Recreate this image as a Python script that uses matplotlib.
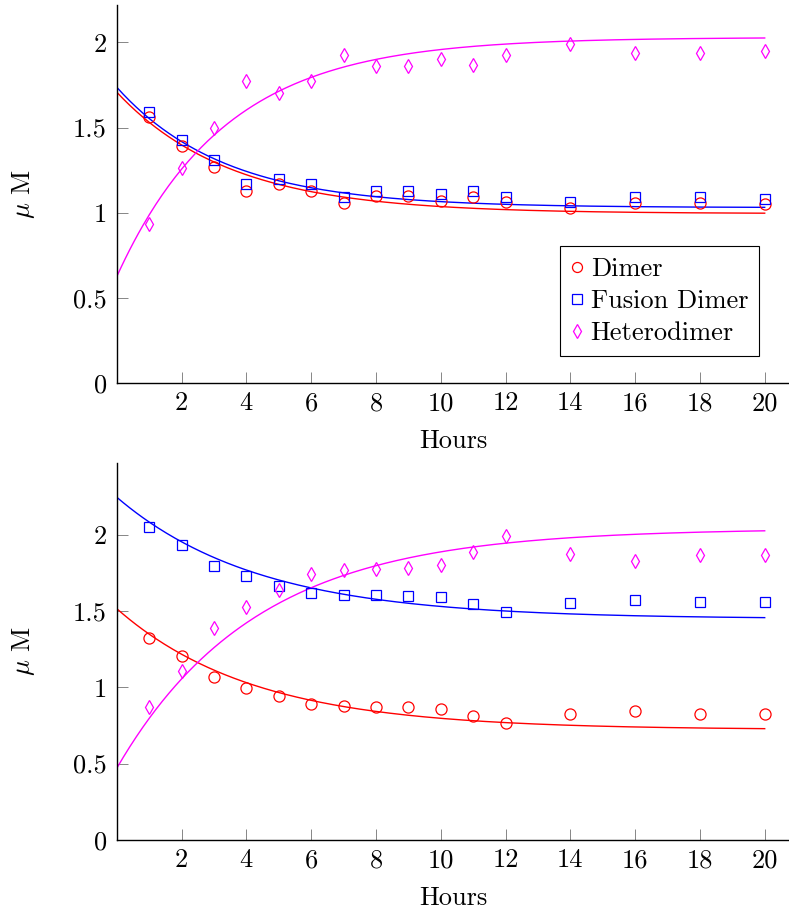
import numpy as np
import matplotlib
matplotlib.use("Agg")
import matplotlib.pyplot as plt

plt.rcParams['font.family'] = ['cmr10', 'DejaVu Serif']
plt.rcParams['mathtext.fontset'] = 'cm'
plt.rcParams['axes.formatter.use_mathtext'] = True

# Measured hours
hours = [1, 2, 3, 4, 5, 6, 7, 8, 9, 10, 11, 12, 14, 16, 18, 20]

# Top panel measurements (uM)
top_dimer = [1.56, 1.39, 1.27, 1.13, 1.17, 1.13, 1.06, 1.10, 1.10, 1.07, 1.09, 1.065, 1.03, 1.055, 1.055, 1.05]
top_fusion = [1.59, 1.43, 1.31, 1.17, 1.20, 1.17, 1.095, 1.13, 1.13, 1.11, 1.125, 1.095, 1.065, 1.09, 1.09, 1.08]
top_hetero = [0.935, 1.26, 1.50, 1.775, 1.705, 1.775, 1.925, 1.86, 1.86, 1.905, 1.865, 1.925, 1.99, 1.94, 1.94, 1.95]

# Bottom panel measurements (uM)
bot_dimer = [1.32, 1.205, 1.065, 0.995, 0.94, 0.89, 0.877, 0.874, 0.868, 0.86, 0.815, 0.763, 0.824, 0.844, 0.824, 0.826]
bot_fusion = [2.05, 1.935, 1.795, 1.727, 1.666, 1.618, 1.607, 1.602, 1.598, 1.591, 1.545, 1.493, 1.554, 1.574, 1.556, 1.556]
bot_hetero = [0.874, 1.106, 1.388, 1.523, 1.639, 1.74, 1.766, 1.775, 1.784, 1.803, 1.886, 1.99, 1.873, 1.83, 1.869, 1.864]

# Fitted exponential curves: (start value, plateau, rate per hour)
top_fits = {'Dimer': (1.708, 0.995, 0.285),
            'Fusion Dimer': (1.737, 1.030, 0.300),
            'Heterodimer': (0.625, 2.030, 0.298)}
bot_fits = {'Dimer': (1.515, 0.722, 0.236),
            'Fusion Dimer': (2.245, 1.448, 0.228),
            'Heterodimer': (0.470, 2.040, 0.233)}

names = ['Dimer', 'Fusion Dimer', 'Heterodimer']
colors = {'Dimer': (1, 0, 0), 'Fusion Dimer': (0, 0, 1), 'Heterodimer': (1, 0, 1)}
markers = {'Dimer': ('o', 8), 'Fusion Dimer': ('s', 7.5), 'Heterodimer': ('d', 7.5)}

xticks = [2, 4, 6, 8, 10, 12, 14, 16, 18, 20]
yticks = [0, 0.5, 1, 1.5, 2]
yticklabels = ['0', '0.5', '1', '1.5', '2']

FS = 19

fig = plt.figure(figsize=(7.89, 9.13), dpi=100)
ax_top = fig.add_axes([0.148, 0.5805, 0.852, 0.414])
ax_bot = fig.add_axes([0.148, 0.080, 0.852, 0.413])

t = np.linspace(0, 20, 300)


def draw_panel(ax, data, fits, ymax):
    for name in names:
        y0, yinf, k = fits[name]
        ax.plot(t, yinf + (y0 - yinf) * np.exp(-k * t), color=colors[name], lw=1.0)
    for name in names:
        m, ms = markers[name]
        ax.plot(hours, data[name], linestyle='none', marker=m, ms=ms,
                mfc='none', mec=colors[name], mew=0.9, label=name)
    ax.set_xlim(0, 20.75)
    ax.set_ylim(0, ymax)
    ax.set_xticks(xticks)
    ax.set_xticklabels([str(v) for v in xticks])
    ax.set_yticks(yticks)
    ax.set_yticklabels(yticklabels)
    for s in ['top', 'right']:
        ax.spines[s].set_visible(False)
    for s in ['left', 'bottom']:
        ax.spines[s].set_linewidth(1.0)
    ax.tick_params(direction='in', length=8, width=0.6, color='0.45', labelsize=FS)
    ax.tick_params(axis='x', pad=6)
    ax.tick_params(axis='y', pad=7)
    ax.set_xlabel('Hours', fontsize=FS, va='top')
    ax.xaxis.set_label_coords(0.5, -0.122)
    ax.set_ylabel(r'$\mu$ M', fontsize=FS)
    ax.yaxis.set_label_coords(-0.118, 0.5)


draw_panel(ax_top, {'Dimer': top_dimer, 'Fusion Dimer': top_fusion, 'Heterodimer': top_hetero},
           top_fits, 2.22)
draw_panel(ax_bot, {'Dimer': bot_dimer, 'Fusion Dimer': bot_fusion, 'Heterodimer': bot_hetero},
           bot_fits, 2.47)

leg = ax_top.legend(loc='lower right', bbox_to_anchor=(0.9557, 0.0714), fontsize=FS,
                    fancybox=False, framealpha=1, edgecolor='black', handlelength=0.5,
                    handletextpad=0.25, borderpad=0.42, labelspacing=0.31, borderaxespad=0,
                    markerscale=0.9)
leg.get_frame().set_linewidth(0.8)

fig.savefig('out.png', dpi=100)
